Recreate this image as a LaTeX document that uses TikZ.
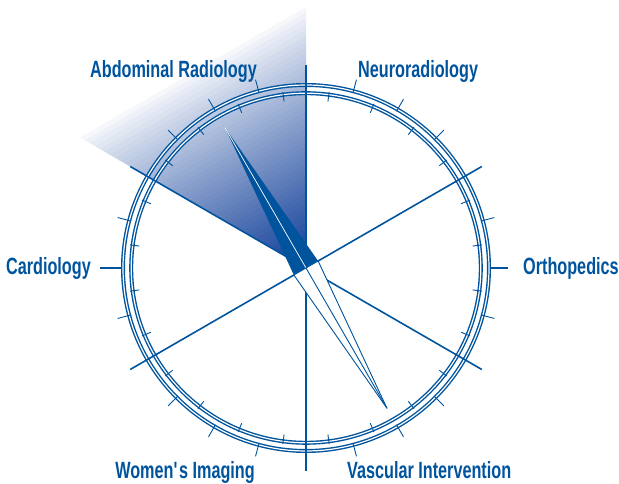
\documentclass[tikz,border=0pt]{standalone}
\usepackage{fontspec}
\newfontfamily\lblfont[FakeStretch=0.69]{Liberation Sans}
\definecolor{dialblue}{RGB}{0,84,158}
\definecolor{fanblue}{RGB}{16,62,152}
\begin{document}
\begin{tikzpicture}[x=1pt,y=1pt,
    spoke/.style={dialblue, line width=1.6},
    ring/.style={dialblue, line width=1.4, double=white, double distance=1.2},
    tickmark/.style={dialblue, line width=0.9},
    lbl/.style={text=dialblue, inner sep=0, font=\lblfont\bfseries\fontsize{23.5}{28}\selectfont}]
  \useasboundingbox (0,0) rectangle (619,484);
  \coordinate (c) at (306,216);
  % shaded fan behind the dial
  \begin{scope}
    \clip (c) -- ++(90:261) -- ++(210:261) -- cycle;
    \begin{scope}[shift={(c)}, rotate=30]
      \foreach \i in {0,...,44} {
        \pgfmathsetmacro\p{100*(1-\i/45)^0.85}
        \fill[fanblue!\p!white] (-160,\i*5.03) rectangle (160,\i*5.03+5.6);
      }
    \end{scope}
  \end{scope}
  % rings and ticks
  \draw[ring] (c) circle (174.8);
  \draw[ring] (c) circle (183);
  \foreach \a in {15,45,60,75,105,120,135,165,195,225,240,255,285,300,315,345}
    \draw[tickmark] (c) ++(\a:181) -- ++(\a:14);
  \foreach \a in {7.5,22.5,...,352.5}
    \draw[tickmark] (c) ++(\a:168) -- ++(\a:9.5);
  % spokes
  \foreach \a in {30,90,150,210,270,330}
    \draw[spoke] (c) -- ++(\a:203);
  \draw[spoke] (c) ++(0:184) -- ++(0:18);
  \draw[spoke] (c) ++(180:184) -- ++(180:22);
  % needle
  \path (c) ++(120:162) coordinate (ntop)
        (c) ++(300:162) coordinate (nbot)
        (c) ++(30:14) coordinate (nr)
        (c) ++(210:14) coordinate (nl);
  \fill[dialblue] (ntop) -- (nr) -- (nl) -- cycle;
  \draw[white, line width=0.7] (c) -- (ntop);
  \filldraw[fill=white, draw=dialblue, line width=0.9, line join=round] (nbot) -- (nr) -- (nl) -- cycle;
  \draw[dialblue, line width=0.9] (c) -- (nbot);
  % labels
  \node[lbl, anchor=base east] (abdo) at (257,406) {Abdominal Radiology};
  \node[lbl, anchor=base west] (neuro) at (358,406) {Neuroradiology};
  \node[lbl, anchor=base east] (cardio) at (91,209) {Cardiology};
  \node[lbl, anchor=base west] (ortho) at (523,209) {Orthopedics};
  \node[lbl, anchor=base east] (women) at (255,5) {Women\textquotesingle s Imaging};
  \node[lbl, anchor=base west] (vasc) at (347,5) {Vascular Intervention};
\end{tikzpicture}
\end{document}
